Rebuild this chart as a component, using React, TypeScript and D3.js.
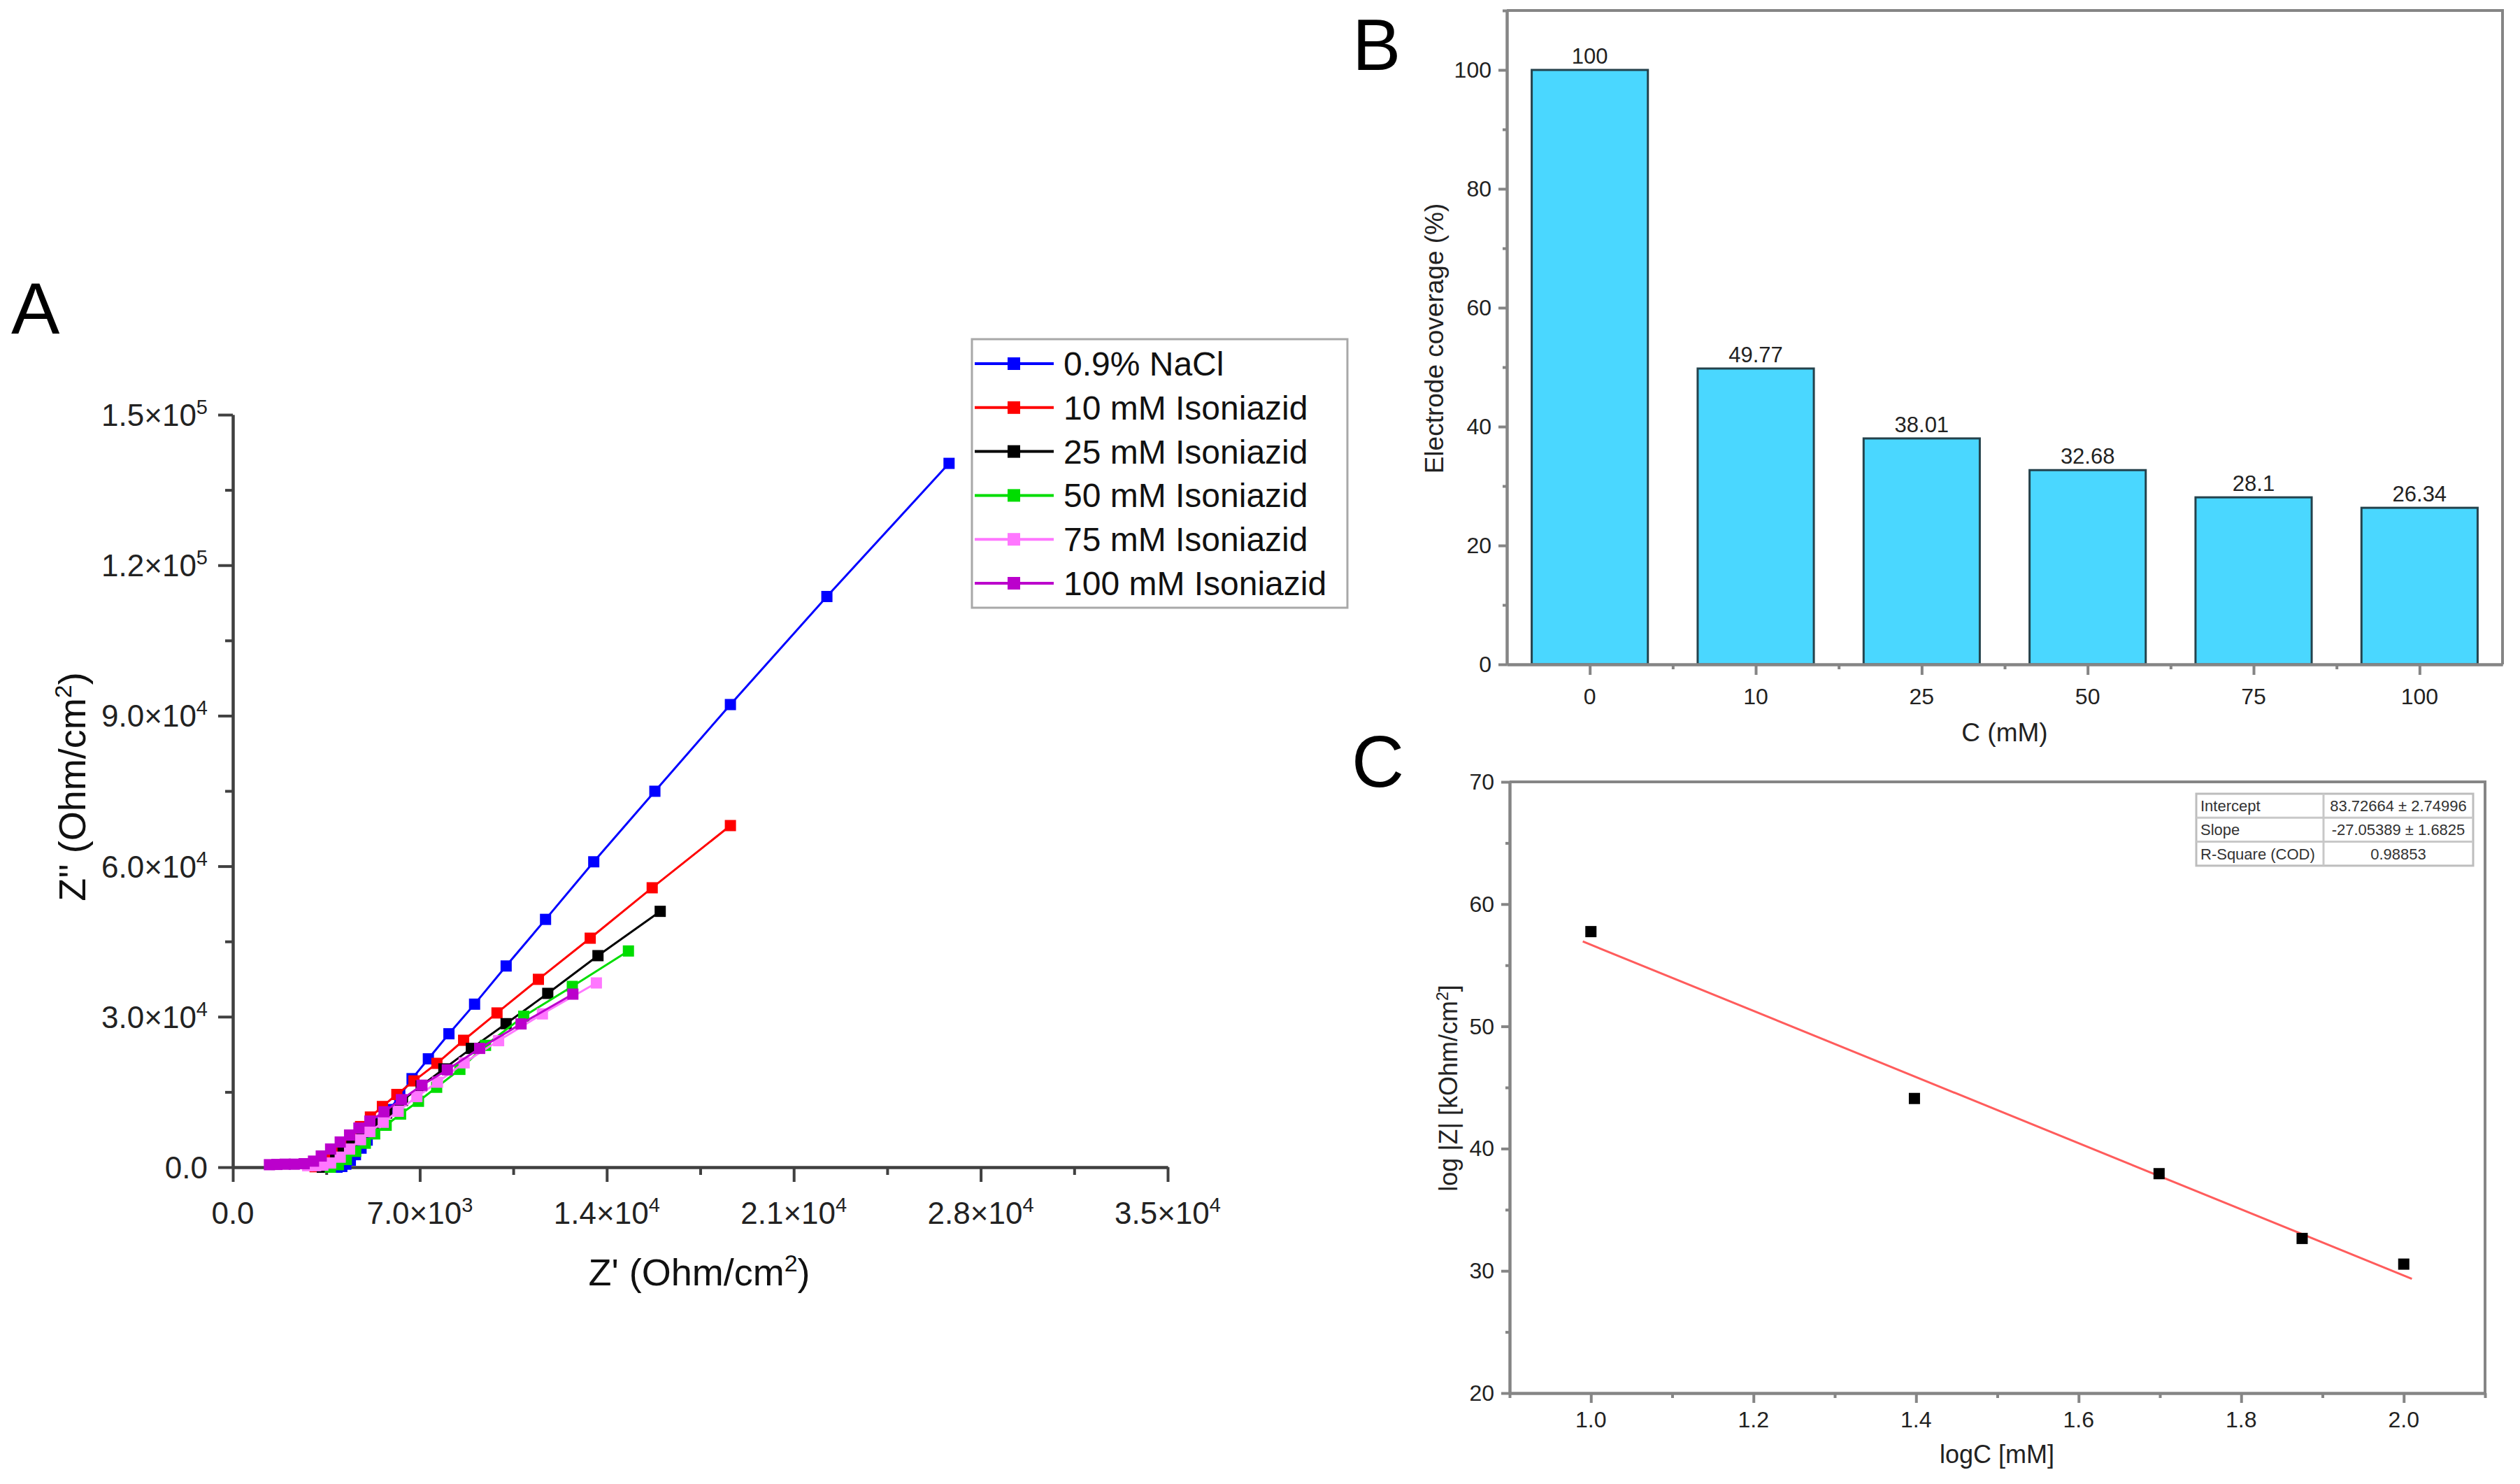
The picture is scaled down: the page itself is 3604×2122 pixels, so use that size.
import React, { useEffect, useRef } from 'react';
import * as d3 from 'd3';

const W = 3604;
const H = 2122;
const FONT = '"Liberation Sans", Arial, Helvetica, sans-serif';

// ---- Panel A: Nyquist plots, points as [Z', Z''] (Ohm/cm2) ----
const seriesNames = ['0.9% NaCl', '10 mM Isoniazid', '25 mM Isoniazid', '50 mM Isoniazid', '75 mM Isoniazid', '100 mM Isoniazid'];
const seriesColors = ['#0000ff', '#ff0000', '#000000', '#00dd00', '#ff77ff', '#bb00cc'];

const nacl: [number, number][] = [
  [26814, 140300], [22240, 113760], [18628, 92220], [15800, 74940], [13512, 60880], [11707, 49400],
  [10232, 40110], [9050, 32500], [8090, 26600], [7320, 21600], [6710, 17650], [6250, 14200],
  [5880, 11500], [5560, 9200], [5280, 7200], [5030, 5400], [4800, 3800], [4590, 2500],
  [4400, 1400], [4230, 600], [4080, 150], [3900, 0],
];
const iso10: [number, number][] = [
  [18628, 68100], [15700, 55700], [13380, 45650], [11440, 37450], [9890, 30750], [8640, 25300],
  [7640, 20700], [6780, 17200], [6140, 14500], [5600, 12100], [5150, 10000], [4780, 8100],
  [4450, 6300], [4150, 4600], [3880, 3100], [3640, 1800], [3420, 800], [3230, 300], [3080, 100],
];
const iso25: [number, number][] = [
  [16000, 51000], [13670, 42170], [11790, 34650], [10230, 28610], [8930, 23680], [7900, 19600],
  [7050, 16200], [6350, 13300], [5760, 10800], [5260, 8600], [4830, 6600], [4460, 4800],
  [4130, 3200], [3850, 1800], [3620, 700], [3450, 100], [3350, 0],
];
const iso50: [number, number][] = [
  [14810, 43100], [12710, 36040], [10890, 30090], [9460, 24290], [8500, 19500], [7630, 15930],
  [6950, 13140], [6280, 10590], [5740, 8360], [5310, 6640], [4960, 4780], [4600, 3160],
  [4250, 1530], [3950, 500], [3650, 0],
];
const iso75: [number, number][] = [
  [13610, 36730], [11590, 30560], [9950, 25220], [8660, 20800], [7660, 16950], [6890, 14070],
  [6190, 11150], [5630, 8960], [5130, 7100], [4780, 5480], [4370, 3620], [4020, 2000],
  [3660, 840], [3370, 400], [3100, 300], [2800, 300],
];
const iso100: [number, number][] = [
  [12730, 34500], [10790, 28560], [9240, 23680], [8030, 19410], [7080, 16350], [6310, 13470],
  [5660, 11050], [5130, 9200], [4720, 7800], [4370, 6410], [4020, 5020], [3660, 3620],
  [3310, 2230], [3020, 1210], [2670, 700], [2300, 600], [1960, 600], [1650, 550], [1370, 500],
];
const nyquistData = [nacl, iso10, iso25, iso50, iso75, iso100];
const zReTicks = [0, 7000, 14000, 21000, 28000, 35000];
const zImTicks = [0, 30000, 60000, 90000, 120000, 150000];

// ---- Panel B: electrode coverage ----
const concLabels = ['0', '10', '25', '50', '75', '100'];
const coverage = [100, 49.77, 38.01, 32.68, 28.1, 26.34];
const coverageTicks = [0, 20, 40, 60, 80, 100];

// ---- Panel C: calibration ----
const logC = [1.0, 1.398, 1.699, 1.875, 2.0];
const logZ = [57.75, 44.1, 37.95, 32.65, 30.55];
const fitIntercept = 83.72664;
const fitSlope = -27.05389;
const fitRange = [0.99, 2.01];
const fitStats = [
  ['Intercept', '83.72664 ± 2.74996'],
  ['Slope', '-27.05389 ± 1.6825'],
  ['R-Square (COD)', '0.98853'],
];
const logCTicks = [1.0, 1.2, 1.4, 1.6, 1.8, 2.0];
const logZTicks = [20, 30, 40, 50, 60, 70];

const sciParts = (v: number) => {
  if (v === 0) return { base: '0.0', exp: '' };
  const e = Math.floor(Math.log10(v) + 1e-9);
  const m = v / Math.pow(10, e);
  return { base: `${m.toFixed(1)}×10`, exp: String(e) };
};

const App: React.FC = () => {
  const svgRef = useRef<SVGSVGElement>(null);

  useEffect(() => {
    if (!svgRef.current) return;
    const svg = d3.select(svgRef.current);
    svg.selectAll('*').remove();
    svg.append('rect').attr('width', W).attr('height', H).attr('fill', '#fff');

    const styleAxis = (sel: any, color: string, w: number) => {
      sel.selectAll('path, line').attr('stroke', color).attr('stroke-width', w);
      sel.selectAll('text').remove();
    };

    // ================= Panel A =================
    const gA = svg.append('g');
    const xA = d3.scaleLinear().domain([0, 35000]).range([333, 1670]);
    const yA = d3.scaleLinear().domain([0, 150000]).range([1669, 593]);
    const axA = '#404040';

    const midX = zReTicks.slice(1).map((t, i) => (t + zReTicks[i]) / 2);
    const midY = zImTicks.slice(1).map((t, i) => (t + zImTicks[i]) / 2);

    gA.append('g').attr('transform', `translate(0,${yA(0)})`)
      .call(d3.axisBottom(xA).tickValues(midX).tickSize(11).tickSizeOuter(0))
      .call(s => styleAxis(s, axA, 4));
    gA.append('g').attr('transform', `translate(0,${yA(0)})`)
      .call(d3.axisBottom(xA).tickValues(zReTicks).tickSize(21).tickSizeOuter(0))
      .call(s => styleAxis(s, axA, 4));
    gA.append('g').attr('transform', `translate(${xA(0)},0)`)
      .call(d3.axisLeft(yA).tickValues(midY).tickSize(11).tickSizeOuter(0))
      .call(s => styleAxis(s, axA, 4));
    gA.append('g').attr('transform', `translate(${xA(0)},0)`)
      .call(d3.axisLeft(yA).tickValues(zImTicks).tickSize(21).tickSizeOuter(0))
      .call(s => styleAxis(s, axA, 4));

    zReTicks.forEach(t => {
      const p = sciParts(t);
      const tx = gA.append('text').attr('x', xA(t)).attr('y', 1750)
        .attr('text-anchor', 'middle').attr('font-family', FONT).attr('font-size', 44).attr('fill', '#222');
      tx.append('tspan').text(p.base);
      if (p.exp) tx.append('tspan').attr('dy', -17).attr('font-size', 29).text(p.exp);
    });
    zImTicks.forEach(t => {
      const p = sciParts(t);
      const tx = gA.append('text').attr('x', 297).attr('y', yA(t) + 16)
        .attr('text-anchor', 'end').attr('font-family', FONT).attr('font-size', 44).attr('fill', '#222');
      tx.append('tspan').text(p.base);
      if (p.exp) tx.append('tspan').attr('dy', -17).attr('font-size', 29).text(p.exp);
    });

    const xt = gA.append('text').attr('x', 1000).attr('y', 1838).attr('text-anchor', 'middle')
      .attr('font-family', FONT).attr('font-size', 54).attr('fill', '#111');
    xt.append('tspan').text("Z' (Ohm/cm");
    xt.append('tspan').attr('dy', -20).attr('font-size', 34).text('2');
    xt.append('tspan').attr('dy', 20).text(')');

    const yt = gA.append('text').attr('transform', 'translate(122,1125) rotate(-90)').attr('text-anchor', 'middle')
      .attr('font-family', FONT).attr('font-size', 54).attr('fill', '#111');
    yt.append('tspan').text("Z'' (Ohm/cm");
    yt.append('tspan').attr('dy', -20).attr('font-size', 34).text('2');
    yt.append('tspan').attr('dy', 20).text(')');

    const line = d3.line<[number, number]>().x(d => xA(d[0])).y(d => yA(d[1]));
    const mk = 16;
    nyquistData.forEach((pts, i) => {
      gA.append('path').attr('d', line(pts) as string).attr('fill', 'none')
        .attr('stroke', seriesColors[i]).attr('stroke-width', 3);
      gA.append('g').selectAll('rect').data(pts).join('rect')
        .attr('x', d => xA(d[0]) - mk / 2).attr('y', d => yA(d[1]) - mk / 2)
        .attr('width', mk).attr('height', mk).attr('fill', seriesColors[i]);
    });

    // legend
    const lg = gA.append('g');
    lg.append('rect').attr('x', 1390).attr('y', 485).attr('width', 537).attr('height', 384)
      .attr('fill', '#fff').attr('stroke', '#a8a8a8').attr('stroke-width', 3);
    seriesNames.forEach((name, i) => {
      const cy = 520 + i * 62.8;
      lg.append('line').attr('x1', 1394).attr('x2', 1507).attr('y1', cy).attr('y2', cy)
        .attr('stroke', seriesColors[i]).attr('stroke-width', 4);
      lg.append('rect').attr('x', 1450 - 9).attr('y', cy - 9).attr('width', 18).attr('height', 18)
        .attr('fill', seriesColors[i]);
      lg.append('text').attr('x', 1521).attr('y', cy + 17).attr('font-family', FONT)
        .attr('font-size', 48).attr('fill', '#111').text(name);
    });

    // ================= Panel B =================
    const gB = svg.append('g');
    const axB = '#858585';
    const xB = d3.scaleBand<string>().domain(concLabels).range([2155, 3579]).paddingInner(0.3).paddingOuter(0.15);
    const yB = d3.scaleLinear().domain([0, 110]).range([950, 15]);

    gB.append('g').selectAll('rect').data(concLabels).join('rect')
      .attr('x', d => xB(d) as number).attr('y', (d, i) => yB(coverage[i]))
      .attr('width', xB.bandwidth()).attr('height', (d, i) => yB(0) - yB(coverage[i]))
      .attr('fill', '#4ad7ff').attr('stroke', '#24424c').attr('stroke-width', 3);

    gB.append('g').selectAll('text').data(concLabels).join('text')
      .attr('x', d => (xB(d) as number) + xB.bandwidth() / 2).attr('y', (d, i) => yB(coverage[i]) - 9)
      .attr('text-anchor', 'middle').attr('font-family', FONT).attr('font-size', 31).attr('fill', '#222')
      .text((d, i) => String(coverage[i]));

    const bMinorY = coverageTicks.map(t => t + 10);
    gB.append('g').attr('transform', 'translate(2155,0)')
      .call(d3.axisLeft(yB).tickValues(bMinorY).tickSize(6).tickSizeOuter(0))
      .call(s => styleAxis(s, axB, 4));
    gB.append('g').attr('transform', 'translate(2155,0)')
      .call(d3.axisLeft(yB).tickValues(coverageTicks).tickSize(12).tickSizeOuter(0))
      .call(s => styleAxis(s, axB, 4));
    coverageTicks.forEach(t => {
      gB.append('text').attr('x', 2133).attr('y', yB(t) + 11).attr('text-anchor', 'end')
        .attr('font-family', FONT).attr('font-size', 32).attr('fill', '#222').text(String(t));
    });

    const bMinorX = concLabels.slice(1).map(c => (xB(c) as number) - (xB.step() * xB.paddingInner()) / 2);
    const centerB = (c: string) => (xB(c) as number) + xB.bandwidth() / 2;
    const xBlin = d3.scaleLinear().domain([2155, 3579]).range([2155, 3579]);
    gB.append('g').attr('transform', 'translate(0,950)')
      .call(d3.axisBottom(xBlin).tickValues(bMinorX).tickSize(7).tickSizeOuter(0))
      .call(s => styleAxis(s, axB, 4));
    gB.append('g').attr('transform', 'translate(0,950)')
      .call(d3.axisBottom(xBlin).tickValues(concLabels.map(centerB)).tickSize(15).tickSizeOuter(0))
      .call(s => styleAxis(s, axB, 4));
    concLabels.forEach(c => {
      gB.append('text').attr('x', centerB(c)).attr('y', 1007).attr('text-anchor', 'middle')
        .attr('font-family', FONT).attr('font-size', 32).attr('fill', '#222').text(c);
    });
    gB.append('path').attr('d', `M2155,15H3579V950`).attr('fill', 'none').attr('stroke', axB).attr('stroke-width', 4);

    gB.append('text').attr('x', 2867).attr('y', 1060).attr('text-anchor', 'middle')
      .attr('font-family', FONT).attr('font-size', 37).attr('fill', '#222').text('C (mM)');
    gB.append('text').attr('transform', 'translate(2064,484) rotate(-90)').attr('text-anchor', 'middle')
      .attr('font-family', FONT).attr('font-size', 37).attr('fill', '#222').text('Electrode coverage (%)');

    // ================= Panel C =================
    const gC = svg.append('g');
    const xC = d3.scaleLinear().domain([0.9, 2.1]).range([2159, 3554]);
    const yC = d3.scaleLinear().domain([20, 70]).range([1992, 1118]);

    const cMinorX = [0.9, 1.1, 1.3, 1.5, 1.7, 1.9, 2.1];
    const cMinorY = [25, 35, 45, 55, 65];
    gC.append('g').attr('transform', 'translate(0,1992)')
      .call(d3.axisBottom(xC).tickValues(cMinorX).tickSize(7).tickSizeOuter(0))
      .call(s => styleAxis(s, axB, 4));
    gC.append('g').attr('transform', 'translate(0,1992)')
      .call(d3.axisBottom(xC).tickValues(logCTicks).tickSize(14).tickSizeOuter(0))
      .call(s => styleAxis(s, axB, 4));
    gC.append('g').attr('transform', 'translate(2159,0)')
      .call(d3.axisLeft(yC).tickValues(cMinorY).tickSize(6).tickSizeOuter(0))
      .call(s => styleAxis(s, axB, 4));
    gC.append('g').attr('transform', 'translate(2159,0)')
      .call(d3.axisLeft(yC).tickValues(logZTicks).tickSize(12).tickSizeOuter(0))
      .call(s => styleAxis(s, axB, 4));
    gC.append('path').attr('d', `M2159,1118H3554V1992`).attr('fill', 'none').attr('stroke', axB).attr('stroke-width', 4);

    logCTicks.forEach(t => {
      gC.append('text').attr('x', xC(t)).attr('y', 2041).attr('text-anchor', 'middle')
        .attr('font-family', FONT).attr('font-size', 32).attr('fill', '#222').text(t.toFixed(1));
    });
    logZTicks.forEach(t => {
      gC.append('text').attr('x', 2137).attr('y', yC(t) + 11).attr('text-anchor', 'end')
        .attr('font-family', FONT).attr('font-size', 32).attr('fill', '#222').text(String(t));
    });

    gC.append('line')
      .attr('x1', xC(fitRange[0])).attr('y1', yC(fitIntercept + fitSlope * fitRange[0]))
      .attr('x2', xC(fitRange[1])).attr('y2', yC(fitIntercept + fitSlope * fitRange[1]))
      .attr('stroke', '#ff5c5c').attr('stroke-width', 3);

    gC.append('g').selectAll('rect').data(logC).join('rect')
      .attr('x', d => xC(d) - 8).attr('y', (d, i) => yC(logZ[i]) - 8)
      .attr('width', 16).attr('height', 16).attr('fill', '#000');

    // fit statistics table
    const tb = gC.append('g');
    const tx0 = 3141, tx1 = 3537, tdiv = 3323, ty0 = 1135, rowH = 34.3;
    tb.append('rect').attr('x', tx0).attr('y', ty0).attr('width', tx1 - tx0).attr('height', rowH * 3)
      .attr('fill', '#fff').attr('stroke', '#bdbdbd').attr('stroke-width', 3);
    [1, 2].forEach(r => tb.append('line').attr('x1', tx0).attr('x2', tx1)
      .attr('y1', ty0 + r * rowH).attr('y2', ty0 + r * rowH).attr('stroke', '#c8c8c8').attr('stroke-width', 3));
    tb.append('line').attr('x1', tdiv).attr('x2', tdiv).attr('y1', ty0).attr('y2', ty0 + rowH * 3)
      .attr('stroke', '#c8c8c8').attr('stroke-width', 3);
    fitStats.forEach((row, r) => {
      const by = ty0 + r * rowH + 25;
      tb.append('text').attr('x', tx0 + 6).attr('y', by).attr('font-family', FONT).attr('font-size', 22)
        .attr('fill', '#333').text(row[0]);
      tb.append('text').attr('x', (tdiv + tx1) / 2).attr('y', by).attr('text-anchor', 'middle')
        .attr('font-family', FONT).attr('font-size', 22).attr('fill', '#333').text(row[1]);
    });

    gC.append('text').attr('x', 2856).attr('y', 2092).attr('text-anchor', 'middle')
      .attr('font-family', FONT).attr('font-size', 36).attr('fill', '#222').text('logC [mM]');
    const cy = gC.append('text').attr('transform', 'translate(2084,1556) rotate(-90)').attr('text-anchor', 'middle')
      .attr('font-family', FONT).attr('font-size', 36).attr('fill', '#222');
    cy.append('tspan').text('log |Z| [kOhm/cm');
    cy.append('tspan').attr('dy', -13).attr('font-size', 23).text('2');
    cy.append('tspan').attr('dy', 13).text(']');

    // panel letters
    [['A', 16, 477], ['B', 1934, 100], ['C', 1933, 1125]].forEach(([t, x, y]) => {
      svg.append('text').attr('x', x as number).attr('y', y as number).attr('font-family', FONT)
        .attr('font-size', 104).attr('fill', '#000').text(t as string);
    });
  }, []);

  return (
    <svg
      ref={svgRef}
      width={W}
      height={H}
      style={{ position: 'absolute', left: 0, top: 0, display: 'block' }}
    />
  );
};

export default App;
